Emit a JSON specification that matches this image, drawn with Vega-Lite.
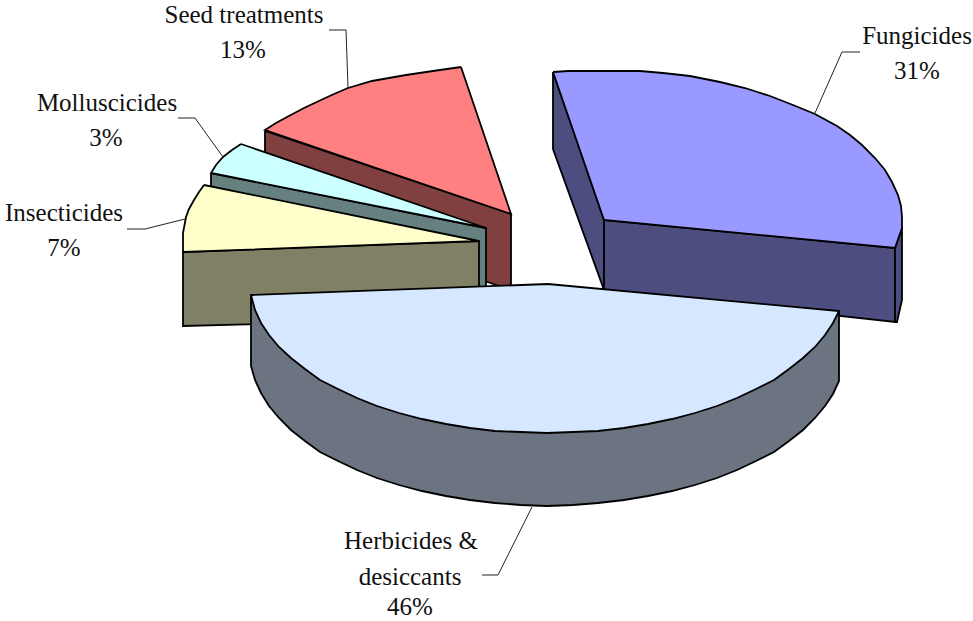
{
"$schema":"https://vega.github.io/schema/vega-lite/v6.json",
"width":973,"height":621,"padding":0,"autosize":{"type":"none"},
"background":"white","view":{"stroke":null},
"datasets":{
"outlines":[
{"s":"seed side","n":1,"x":265,"y":131},{"s":"seed side","n":2,"x":511,"y":214},{"s":"seed side","n":3,"x":511,"y":290},{"s":"seed side","n":4,"x":265,"y":207},{"s":"seed side","n":5,"x":265,"y":131},
{"s":"seed top","n":1,"x":461,"y":67},{"s":"seed top","n":2,"x":433,"y":71},{"s":"seed top","n":3,"x":406,"y":75},{"s":"seed top","n":4,"x":372,"y":81},{"s":"seed top","n":5,"x":348,"y":88},{"s":"seed top","n":6,"x":334,"y":94},{"s":"seed top","n":7,"x":321,"y":100},{"s":"seed top","n":8,"x":304,"y":108},{"s":"seed top","n":9,"x":287,"y":117},{"s":"seed top","n":10,"x":276,"y":123},{"s":"seed top","n":11,"x":265,"y":130},{"s":"seed top","n":12,"x":511,"y":214},{"s":"seed top","n":13,"x":461,"y":67},
{"s":"mollusc side","n":1,"x":211,"y":173},{"s":"mollusc side","n":2,"x":486,"y":228},{"s":"mollusc side","n":3,"x":486,"y":290},{"s":"mollusc side","n":4,"x":211,"y":235},{"s":"mollusc side","n":5,"x":211,"y":173},
{"s":"mollusc top","n":1,"x":241,"y":144},{"s":"mollusc top","n":2,"x":232,"y":150},{"s":"mollusc top","n":3,"x":223,"y":157},{"s":"mollusc top","n":4,"x":216,"y":165},{"s":"mollusc top","n":5,"x":211,"y":173},{"s":"mollusc top","n":6,"x":486,"y":228},{"s":"mollusc top","n":7,"x":241,"y":144},
{"s":"insect side","n":1,"x":183,"y":252},{"s":"insect side","n":2,"x":479,"y":241},{"s":"insect side","n":3,"x":479,"y":318},{"s":"insect side","n":4,"x":183,"y":326},{"s":"insect side","n":5,"x":183,"y":252},
{"s":"insect top","n":1,"x":204,"y":185},{"s":"insect top","n":2,"x":199,"y":192},{"s":"insect top","n":3,"x":194,"y":200},{"s":"insect top","n":4,"x":189,"y":209},{"s":"insect top","n":5,"x":186,"y":217},{"s":"insect top","n":6,"x":183,"y":233},{"s":"insect top","n":7,"x":183,"y":252},{"s":"insect top","n":8,"x":479,"y":241},{"s":"insect top","n":9,"x":204,"y":185},
{"s":"fungi left","n":1,"x":553,"y":72},{"s":"fungi left","n":2,"x":604,"y":220},{"s":"fungi left","n":3,"x":604,"y":290},{"s":"fungi left","n":4,"x":553,"y":149},{"s":"fungi left","n":5,"x":553,"y":72},
{"s":"fungi front","n":1,"x":604,"y":220},{"s":"fungi front","n":2,"x":895,"y":248},{"s":"fungi front","n":3,"x":895,"y":322},{"s":"fungi front","n":4,"x":604,"y":290},{"s":"fungi front","n":5,"x":604,"y":220},
{"s":"fungi rim","n":1,"x":895,"y":248},{"s":"fungi rim","n":2,"x":902,"y":228},{"s":"fungi rim","n":3,"x":902,"y":300},{"s":"fungi rim","n":4,"x":897,"y":322},{"s":"fungi rim","n":5,"x":895,"y":322},{"s":"fungi rim","n":6,"x":895,"y":248},
{"s":"fungi top","n":1,"x":553,"y":72},{"s":"fungi top","n":2,"x":568,"y":71},{"s":"fungi top","n":3,"x":640,"y":71},{"s":"fungi top","n":4,"x":663,"y":73},{"s":"fungi top","n":5,"x":690,"y":76},{"s":"fungi top","n":6,"x":720,"y":82},{"s":"fungi top","n":7,"x":745,"y":88},{"s":"fungi top","n":8,"x":770,"y":96},{"s":"fungi top","n":9,"x":793,"y":105},{"s":"fungi top","n":10,"x":815,"y":114},{"s":"fungi top","n":11,"x":837,"y":126},{"s":"fungi top","n":12,"x":850,"y":135},{"s":"fungi top","n":13,"x":862,"y":145},{"s":"fungi top","n":14,"x":875,"y":158},{"s":"fungi top","n":15,"x":885,"y":170},{"s":"fungi top","n":16,"x":892,"y":182},{"s":"fungi top","n":17,"x":898,"y":195},{"s":"fungi top","n":18,"x":901,"y":206},{"s":"fungi top","n":19,"x":902,"y":217},{"s":"fungi top","n":20,"x":902,"y":228},{"s":"fungi top","n":21,"x":895,"y":248},{"s":"fungi top","n":22,"x":604,"y":220},{"s":"fungi top","n":23,"x":553,"y":72},
{"s":"herb side","n":1,"x":839,"y":311},{"s":"herb side","n":2,"x":839,"y":381},{"s":"herb side","n":3,"x":833,"y":394},{"s":"herb side","n":4,"x":825,"y":406},{"s":"herb side","n":5,"x":815,"y":418},{"s":"herb side","n":6,"x":803,"y":430},{"s":"herb side","n":7,"x":789,"y":441},{"s":"herb side","n":8,"x":774,"y":452},{"s":"herb side","n":9,"x":756,"y":461},{"s":"herb side","n":10,"x":737,"y":470},{"s":"herb side","n":11,"x":717,"y":478},{"s":"herb side","n":12,"x":695,"y":485},{"s":"herb side","n":13,"x":672,"y":491},{"s":"herb side","n":14,"x":648,"y":496},{"s":"herb side","n":15,"x":624,"y":500},{"s":"herb side","n":16,"x":598,"y":503},{"s":"herb side","n":17,"x":573,"y":505},{"s":"herb side","n":18,"x":547,"y":506},{"s":"herb side","n":19,"x":521,"y":505},{"s":"herb side","n":20,"x":495,"y":503},{"s":"herb side","n":21,"x":470,"y":500},{"s":"herb side","n":22,"x":446,"y":496},{"s":"herb side","n":23,"x":422,"y":491},{"s":"herb side","n":24,"x":399,"y":485},{"s":"herb side","n":25,"x":377,"y":478},{"s":"herb side","n":26,"x":357,"y":470},{"s":"herb side","n":27,"x":338,"y":461},{"s":"herb side","n":28,"x":320,"y":452},{"s":"herb side","n":29,"x":305,"y":441},{"s":"herb side","n":30,"x":291,"y":430},{"s":"herb side","n":31,"x":279,"y":418},{"s":"herb side","n":32,"x":269,"y":406},{"s":"herb side","n":33,"x":261,"y":393},{"s":"herb side","n":34,"x":255,"y":380},{"s":"herb side","n":35,"x":251,"y":366},{"s":"herb side","n":36,"x":251,"y":295},{"s":"herb side","n":37,"x":839,"y":311},
{"s":"herb top","n":1,"x":251,"y":295},{"s":"herb top","n":2,"x":548,"y":284},{"s":"herb top","n":3,"x":839,"y":311},{"s":"herb top","n":4,"x":833,"y":323},{"s":"herb top","n":5,"x":825,"y":335},{"s":"herb top","n":6,"x":815,"y":347},{"s":"herb top","n":7,"x":803,"y":358},{"s":"herb top","n":8,"x":789,"y":369},{"s":"herb top","n":9,"x":774,"y":380},{"s":"herb top","n":10,"x":756,"y":389},{"s":"herb top","n":11,"x":737,"y":398},{"s":"herb top","n":12,"x":717,"y":406},{"s":"herb top","n":13,"x":695,"y":413},{"s":"herb top","n":14,"x":672,"y":419},{"s":"herb top","n":15,"x":648,"y":424},{"s":"herb top","n":16,"x":624,"y":428},{"s":"herb top","n":17,"x":598,"y":431},{"s":"herb top","n":18,"x":573,"y":432},{"s":"herb top","n":19,"x":547,"y":433},{"s":"herb top","n":20,"x":521,"y":432},{"s":"herb top","n":21,"x":495,"y":431},{"s":"herb top","n":22,"x":470,"y":428},{"s":"herb top","n":23,"x":446,"y":424},{"s":"herb top","n":24,"x":422,"y":419},{"s":"herb top","n":25,"x":399,"y":413},{"s":"herb top","n":26,"x":377,"y":406},{"s":"herb top","n":27,"x":357,"y":398},{"s":"herb top","n":28,"x":338,"y":389},{"s":"herb top","n":29,"x":320,"y":380},{"s":"herb top","n":30,"x":305,"y":369},{"s":"herb top","n":31,"x":291,"y":358},{"s":"herb top","n":32,"x":279,"y":347},{"s":"herb top","n":33,"x":269,"y":335},{"s":"herb top","n":34,"x":261,"y":323},{"s":"herb top","n":35,"x":255,"y":310},{"s":"herb top","n":36,"x":251,"y":295}
],
"leaders":[
{"l":"seed","n":1,"x":329,"y":30},{"l":"seed","n":2,"x":346,"y":30},{"l":"seed","n":3,"x":348,"y":88},
{"l":"mollusc","n":1,"x":178,"y":118},{"l":"mollusc","n":2,"x":195,"y":118},{"l":"mollusc","n":3,"x":223,"y":157},
{"l":"insect","n":1,"x":127,"y":229},{"l":"insect","n":2,"x":145,"y":229},{"l":"insect","n":3,"x":185,"y":219},
{"l":"fungi","n":1,"x":860,"y":52},{"l":"fungi","n":2,"x":842,"y":52},{"l":"fungi","n":3,"x":815,"y":113},
{"l":"herb","n":1,"x":482,"y":575},{"l":"herb","n":2,"x":498,"y":575},{"l":"herb","n":3,"x":532,"y":507}
],
"labels":[
{"t":"Seed treatments","x":244,"y":15},{"t":"13%","x":243,"y":50},
{"t":"Molluscicides","x":107,"y":103},{"t":"3%","x":106,"y":138},
{"t":"Insecticides","x":64,"y":213},{"t":"7%","x":64,"y":248},
{"t":"Fungicides","x":917,"y":36},{"t":"31%","x":917,"y":71},
{"t":"Herbicides &","x":411,"y":541},{"t":"desiccants","x":410,"y":577},{"t":"46%","x":410,"y":607}
]},
"encoding":{
"x":{"field":"x","type":"quantitative","axis":null,"scale":{"domain":[0,973],"nice":false,"zero":false}},
"y":{"field":"y","type":"quantitative","axis":null,"scale":{"domain":[621,0],"nice":false,"zero":false}}
},
"layer":[
{"data":{"name":"outlines"},
"mark":{"type":"line","stroke":"#000","strokeWidth":1.8,"strokeJoin":"miter","clip":false},
"encoding":{
"detail":{"field":"s"},
"order":{"field":"n","type":"quantitative"},
"fill":{"field":"s","type":"nominal","legend":null,"scale":{
"domain":["seed side","seed top","mollusc side","mollusc top","insect side","insect top","fungi left","fungi front","fungi rim","fungi top","herb side","herb top"],
"range":["#804040","#FF8080","#668080","#CCFFFF","#808066","#FFFFCC","#4D4D80","#4D4D80","#4D4D80","#9999FF","#6B7480","#D5E8FF"]}}
}},
{"data":{"name":"leaders"},
"mark":{"type":"line","stroke":"#222","strokeWidth":1},
"encoding":{"detail":{"field":"l"},"order":{"field":"n","type":"quantitative"}}},
{"data":{"name":"labels"},
"mark":{"type":"text","font":"Liberation Serif","fontSize":25,"color":"#111","align":"center","baseline":"middle"},
"encoding":{"text":{"field":"t"}}}
]
}
